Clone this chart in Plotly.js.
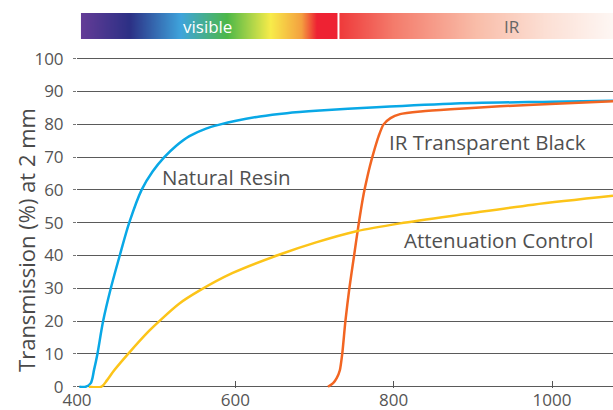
<!DOCTYPE html>
<html>
<head>
<meta charset="utf-8">
<script src="https://cdn.plot.ly/plotly-3.0.1.min.js"></script>
<style>
html,body{margin:0;padding:0;background:#fff;}
#chart{width:613px;height:410px;}
</style>
</head>
<body>
<div id="chart"></div>
<script>
// Wavelength (nm) and transmission (%)
const naturalX = [403, 411, 417.4, 421.6, 425.8, 433, 442.7, 454, 466, 481.6, 495.5, 510, 525, 542, 563, 580, 601, 631, 665, 707, 760, 872, 1000, 1077];
const naturalY = [0, 0, 1.1, 5.2, 10, 20, 30, 40, 50, 60, 65.6, 69.9, 73.4, 76.4, 78.7, 79.9, 81.1, 82.4, 83.4, 84.2, 85, 86.3, 86.9, 87.2];

const irBlackX = [717, 723.5, 728, 732, 735, 739, 744, 750, 756, 762, 766, 770, 774.5, 781, 787, 796, 808, 834, 872, 934, 1019, 1077];
const irBlackY = [0, 1.1, 2.6, 5, 10, 20, 30, 40, 50, 58.7, 63.2, 67.3, 71.3, 76.4, 79.9, 81.9, 83.1, 83.9, 84.6, 85.5, 86.4, 87];

const attenX = [415, 431, 438, 447, 466, 491, 504, 529, 554, 596, 656, 702, 753, 808, 892, 976, 1077];
const attenY = [0, 0, 2, 5, 10.4, 17, 20, 25.3, 29.2, 34.6, 40.3, 44, 47.4, 49.8, 52.7, 55.5, 58.2];

const xTicks = [400, 600, 800, 1000];
const yTicks = [0, 10, 20, 30, 40, 50, 60, 70, 80, 90, 100];

const seriesNames = ["Natural Resin", "IR Transparent Black", "Attenuation Control"];
const labelX = [589, 918, 933];
const labelY = [64, 74.5, 44.8];

// spectrum bands (nm)
const visibleBand = [405, 729];
const irBand = [731.5, 1077];
const visibleStops = [[0, '#643c97'], [0.19, '#2c3085'], [0.39, '#3fa4dc'], [0.57, '#4db848'], [0.74, '#f8ec4a'], [0.86, '#f4a040'], [0.92, '#ee2233'], [1, '#ee2233']];
const irStops = [[0, '#ef3a3b'], [0.2, '#f47c6c'], [0.5, '#f9bda9'], [0.75, '#fcdfd4'], [1, '#fef7f4']];

function gradientImage(stops) {
  const c = document.createElement('canvas');
  c.width = 400; c.height = 20;
  const g = c.getContext('2d');
  const lg = g.createLinearGradient(0, 0, 400, 0);
  stops.forEach(s => lg.addColorStop(s[0], s[1]));
  g.fillStyle = lg;
  g.fillRect(0, 0, 400, 20);
  return c.toDataURL('image/png');
}

const FONT = 'Open Sans, Lato, sans-serif';
const lineWidth = 2.5;

const traces = [
  {x: naturalX, y: naturalY, name: seriesNames[0], mode: 'lines', line: {color: '#09a8e6', width: lineWidth, shape: 'spline', smoothing: 0.85}},
  {x: irBlackX, y: irBlackY, name: seriesNames[1], mode: 'lines', line: {color: '#f26522', width: lineWidth, shape: 'spline', smoothing: 0.6}},
  {x: attenX, y: attenY, name: seriesNames[2], mode: 'lines', line: {color: '#fcc419', width: lineWidth, shape: 'spline', smoothing: 0.85}}
];

const yDomTop = 0.8816;
const barBottom = 0.9307;

const annotations = seriesNames.map((n, i) => ({
  x: labelX[i], y: labelY[i], xref: 'x', yref: 'y', text: n, showarrow: false,
  font: {family: FONT, size: 20.5, color: '#505050'}, xanchor: 'center', yanchor: 'middle'
}));
annotations.push({x: 565, y: 0.965, xref: 'x', yref: 'paper', text: 'visible', showarrow: false,
  font: {family: FONT, size: 17, color: '#ffffff'}, xanchor: 'center', yanchor: 'middle'});
annotations.push({x: 950, y: 0.965, xref: 'x', yref: 'paper', text: 'IR', showarrow: false,
  font: {family: FONT, size: 17, color: '#666666'}, xanchor: 'center', yanchor: 'middle'});
annotations.push({x: -0.095, y: 0.395, xref: 'paper', yref: 'paper', text: 'Transmission (%) at 2 mm', showarrow: false,
  textangle: -90, font: {family: FONT, size: 22, color: '#4a4a4a'}, xanchor: 'center', yanchor: 'middle'});

const images = [
  {source: gradientImage(visibleStops), xref: 'x', yref: 'paper', x: visibleBand[0], sizex: visibleBand[1] - visibleBand[0],
   y: 1, sizey: 1 - barBottom, sizing: 'stretch', xanchor: 'left', yanchor: 'top', layer: 'below'},
  {source: gradientImage(irStops), xref: 'x', yref: 'paper', x: irBand[0], sizex: irBand[1] - irBand[0],
   y: 1, sizey: 1 - barBottom, sizing: 'stretch', xanchor: 'left', yanchor: 'top', layer: 'below'}
];

const layout = {
  width: 613, height: 410,
  margin: {l: 77, r: 0, t: 13, b: 22},
  paper_bgcolor: '#ffffff', plot_bgcolor: '#ffffff',
  showlegend: false,
  font: {family: FONT, color: '#555555'},
  xaxis: {
    range: [400, 1077], tickvals: xTicks, ticktext: xTicks.map(String),
    showgrid: false, zeroline: false, showline: false,
    ticks: 'inside', ticklen: 7, tickcolor: '#555555', tickwidth: 1,
    tickfont: {family: FONT, size: 17, color: '#555555'},
    ticklabelstandoff: 0,
    anchor: 'y'
  },
  yaxis: {
    domain: [0, yDomTop], range: [-0.4, 100.4], tickvals: yTicks, ticktext: yTicks.map(String),
    showgrid: true, gridcolor: '#5a5a5a', gridwidth: 1,
    zeroline: true, zerolinecolor: '#5a5a5a', zerolinewidth: 1, showline: false,
    ticks: 'outside', ticklen: 3, tickcolor: '#777777',
    tickfont: {family: FONT, size: 17, color: '#555555'},
    ticklabelstandoff: 6
  },
  annotations: annotations,
  images: images
};

Plotly.newPlot('chart', traces, layout, {displayModeBar: false, staticPlot: true});
</script>
</body>
</html>
